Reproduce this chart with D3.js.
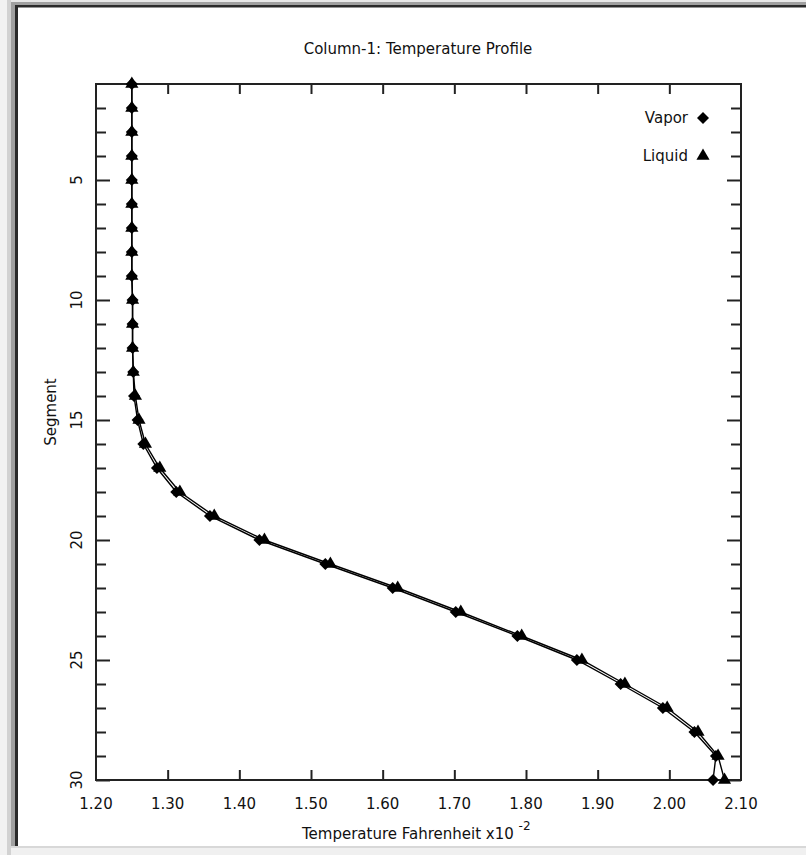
<!DOCTYPE html>
<html>
<head>
<meta charset="utf-8">
<script src="https://cdn.jsdelivr.net/npm/d3@7"></script>
<style>
  body { margin: 0; background: #fff; }
  svg { display: block; }
  text { font-family: "DejaVu Sans", sans-serif; fill: #111; }
</style>
</head>
<body>
<svg id="chart"></svg>
<script>
// segment numbers (top of column = 1)
const segments = [1, 2, 3, 4, 5, 6, 7, 8, 9, 10, 11, 12, 13, 14, 15,
                  16, 17, 18, 19, 20, 21, 22, 23, 24, 25, 26, 27, 28, 29, 30];
// temperatures, Fahrenheit x10^-2
const vapor  = [1.250, 1.250, 1.250, 1.250, 1.250, 1.250, 1.250, 1.250, 1.250, 1.251,
                1.251, 1.251, 1.252, 1.253, 1.258, 1.266, 1.285, 1.312, 1.359, 1.428,
                1.520, 1.614, 1.702, 1.788, 1.871, 1.932, 1.991, 2.035, 2.065, 2.061];
const liquid = [1.250, 1.250, 1.250, 1.250, 1.250, 1.250, 1.250, 1.250, 1.250, 1.251,
                1.251, 1.251, 1.252, 1.255, 1.260, 1.269, 1.289, 1.317, 1.365, 1.435,
                1.527, 1.621, 1.709, 1.794, 1.878, 1.938, 1.997, 2.040, 2.068, 2.077];
const xTicks = [1.2, 1.3, 1.4, 1.5, 1.6, 1.7, 1.8, 1.9, 2.0, 2.1];
const yLabelTicks = [5, 10, 15, 20, 25, 30];

const config = {
  width: 806, height: 855,
  plot: {left: 96, right: 741, top: 84, bottom: 780},
  tick: 10, majorTick: 14
};

const svg = d3.select('#chart')
    .attr('width', config.width)
    .attr('height', config.height);

// window frame (sunken panel look)
const frame = svg.append('g');
frame.append('rect').attr('x', 0).attr('y', 0).attr('width', 7).attr('height', 855).attr('fill', '#f2f2f2');
frame.append('rect').attr('x', 7).attr('y', 0).attr('width', 4).attr('height', 855).attr('fill', '#d2d2d2');
frame.append('rect').attr('x', 11).attr('y', 2).attr('width', 4).attr('height', 846).attr('fill', '#a0a0a0');
frame.append('rect').attr('x', 11).attr('y', 0).attr('width', 795).attr('height', 2).attr('fill', '#e8e8e8');
frame.append('rect').attr('x', 11).attr('y', 2).attr('width', 795).attr('height', 3).attr('fill', '#a0a0a0');
frame.append('rect').attr('x', 15).attr('y', 5).attr('width', 791).attr('height', 2.5).attr('fill', '#2a2a2a');
frame.append('rect').attr('x', 15).attr('y', 5).attr('width', 3).attr('height', 843).attr('fill', '#2a2a2a');
frame.append('rect').attr('x', 11).attr('y', 846).attr('width', 795).attr('height', 2).attr('fill', '#d8d8d8');
frame.append('rect').attr('x', 11).attr('y', 848).attr('width', 795).attr('height', 7).attr('fill', '#f0f0f0');

const p = config.plot;
const x = d3.scaleLinear().domain([1.2, 2.1]).range([p.left, p.right]);
const y = d3.scaleLinear().domain([1, 30]).range([p.top, p.bottom]);

// ticks on all four sides, pointing inward
const tickStyle = g => {
  g.select('.domain').remove();
  g.selectAll('.tick line').attr('stroke', '#222').attr('stroke-width', 2);
  g.selectAll('.tick text').remove();
};
const minorY = segments.filter(d => yLabelTicks.indexOf(d) < 0 && d > 1);

svg.append('g').attr('transform', `translate(${p.left},0)`)
    .call(d3.axisLeft(y).tickValues(minorY).tickSize(-config.tick)).call(tickStyle);
svg.append('g').attr('transform', `translate(${p.left},0)`)
    .call(d3.axisLeft(y).tickValues(yLabelTicks).tickSize(-config.majorTick)).call(tickStyle);
svg.append('g').attr('transform', `translate(${p.right},0)`)
    .call(d3.axisRight(y).tickValues(minorY).tickSize(-config.tick)).call(tickStyle);
svg.append('g').attr('transform', `translate(${p.right},0)`)
    .call(d3.axisRight(y).tickValues(yLabelTicks).tickSize(-config.majorTick)).call(tickStyle);
svg.append('g').attr('transform', `translate(0,${p.bottom})`)
    .call(d3.axisBottom(x).tickValues(xTicks.slice(1, -1)).tickSize(-config.tick)).call(tickStyle);
svg.append('g').attr('transform', `translate(0,${p.top})`)
    .call(d3.axisTop(x).tickValues(xTicks.slice(1, -1)).tickSize(-config.tick)).call(tickStyle);

// plot box
svg.append('rect')
    .attr('x', p.left).attr('y', p.top)
    .attr('width', p.right - p.left).attr('height', p.bottom - p.top)
    .attr('fill', 'none').attr('stroke', '#222').attr('stroke-width', 2);

// tick labels
svg.append('g').selectAll('text')
    .data(xTicks)
    .join('text')
    .attr('x', d => x(d))
    .attr('y', p.bottom + 29)
    .attr('text-anchor', 'middle')
    .attr('font-size', '15px')
    .text(d => d3.format('.2f')(d));

svg.append('g').selectAll('text')
    .data(yLabelTicks)
    .join('text')
    .attr('transform', d => `translate(${p.left - 14},${y(d)}) rotate(-90)`)
    .attr('text-anchor', 'middle')
    .attr('font-size', '15px')
    .text(d => d);

// titles
svg.append('text')
    .attr('x', 418).attr('y', 54)
    .attr('text-anchor', 'middle')
    .attr('font-size', '15px')
    .text('Column-1: Temperature Profile');

const xl = svg.append('text')
    .attr('x', 302).attr('y', 839)
    .attr('font-size', '15px');
xl.append('tspan').text('Temperature Fahrenheit x10 ');
xl.append('tspan').attr('dy', -9).attr('font-size', '12px').text('-2');

svg.append('text')
    .attr('transform', `translate(56,${(p.top + p.bottom) / 2 - 20}) rotate(-90)`)
    .attr('text-anchor', 'middle')
    .attr('font-size', '15px')
    .text('Segment');

// series
const series = [
  {name: 'Vapor', values: vapor, symbol: d3.symbolSquare, size: 72, rotate: 45},
  {name: 'Liquid', values: liquid, symbol: d3.symbolTriangle, size: 75, rotate: 0}
];

const line = d3.line()
    .x(d => x(d[1]))
    .y(d => y(d[0]));

series.forEach(s => {
  const pts = segments.map((seg, i) => [seg, s.values[i]]);
  svg.append('path')
      .datum(pts)
      .attr('fill', 'none')
      .attr('stroke', '#000')
      .attr('stroke-width', 1.4)
      .attr('d', line);
});

series.forEach(s => {
  const pts = segments.map((seg, i) => [seg, s.values[i]]);
  svg.append('g').selectAll('path')
      .data(pts)
      .join('path')
      .attr('d', d3.symbol(s.symbol, s.size))
      .attr('fill', '#000')
      .attr('transform', d => `translate(${x(d[1])},${y(d[0])}) rotate(${s.rotate})`);
});

// legend
const legend = svg.append('g');
series.forEach((s, i) => {
  const ly = 118 + i * 38;
  legend.append('text')
      .attr('x', 688).attr('y', ly + 5)
      .attr('text-anchor', 'end')
      .attr('font-size', '15px')
      .text(s.name);
  legend.append('path')
      .attr('d', d3.symbol(s.symbol, s.size))
      .attr('fill', '#000')
      .attr('transform', `translate(703,${ly}) rotate(${s.rotate})`);
});
</script>
</body>
</html>
